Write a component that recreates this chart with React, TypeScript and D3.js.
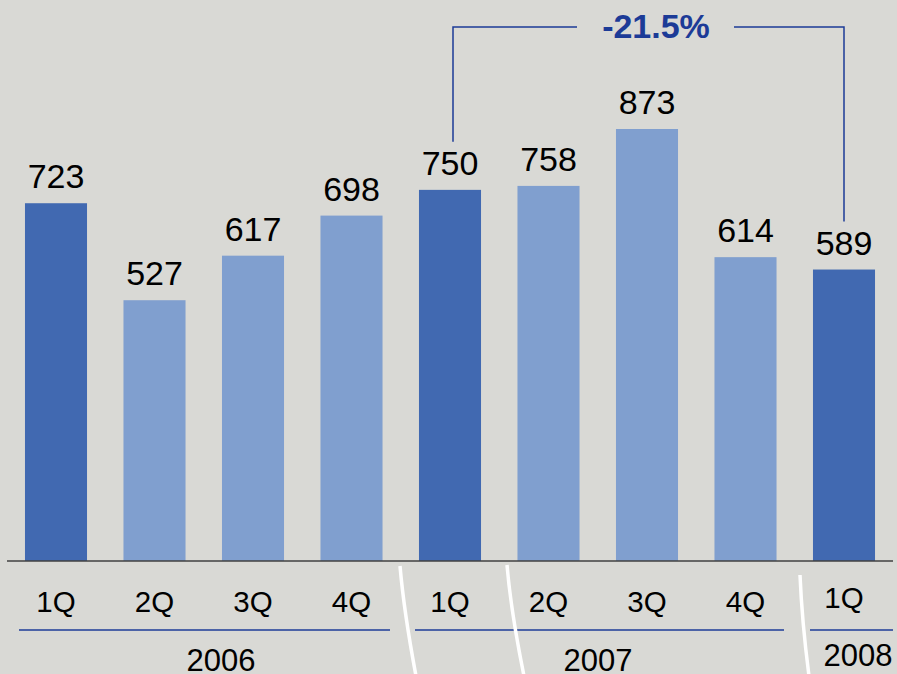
import React from "react";
import * as d3 from "d3";

const quarters = ["1Q", "2Q", "3Q", "4Q", "1Q", "2Q", "3Q", "4Q", "1Q"];
const values = [723, 527, 617, 698, 750, 758, 873, 614, 589];
const highlight = [true, false, false, false, true, false, false, false, true];
const years = ["2006", "2007", "2008"];
const changeLabel = "-21.5%";
const changeFrom = 4;
const changeTo = 8;

const W = 897;
const H = 674;
const BASE = 561;
const BG = "#d9d9d5";
const DARK = "#4169b1";
const LIGHT = "#809fcf";
const NAVY = "#1c3b97";
const FONT = "Liberation Sans, Arial, sans-serif";

export default function App() {
  const x = d3
    .scaleBand<number>()
    .domain(d3.range(values.length))
    .range([6.75, 893.25])
    .paddingInner(0.37)
    .paddingOuter(0.185);
  const y = d3.scaleLinear().domain([0, 873]).range([BASE, 129]);
  const cx = (i: number) => (x(i) as number) + x.bandwidth() / 2;

  const labelGap = 15;
  const capH = 25;
  const bx1 = cx(changeFrom) + 3;
  const bx2 = cx(changeTo);
  const by = 27;
  const y1End = y(values[changeFrom]) - labelGap - capH - 8;
  const y2End = y(values[changeTo]) - labelGap - capH - 8;

  const underlines = [
    [19, 390],
    [415, 784],
    [810, 893],
  ];
  const yearPos = [
    { x: 221, y: 671 },
    { x: 598, y: 671 },
    { x: 858, y: 666 },
  ];

  const curves = [
    "M400,566 Q404,612 416,676",
    "M507,565 Q511,612 524,676",
    "M800,575 Q802,622 809,676",
  ];

  return (
    <svg
      width={W}
      height={H}
      style={{ position: "absolute", left: 0, top: 0, background: BG }}
    >
      <rect x={0} y={0} width={W} height={H} fill={BG} />
      {values.map((v, i) => (
        <rect
          key={"b" + i}
          x={x(i)}
          y={y(v)}
          width={x.bandwidth()}
          height={BASE - y(v)}
          fill={highlight[i] ? DARK : LIGHT}
        />
      ))}
      {values.map((v, i) => (
        <text
          key={"v" + i}
          x={cx(i)}
          y={y(v) - labelGap}
          textAnchor="middle"
          fontFamily={FONT}
          fontSize={34}
          fill="#000"
        >
          {v}
        </text>
      ))}
      <line x1={7} x2={893} y1={BASE} y2={BASE} stroke="#404040" strokeWidth={1.5} />
      {quarters.map((q, i) => (
        <text
          key={"q" + i}
          x={cx(i)}
          y={i === 8 ? 608 : 612}
          textAnchor="middle"
          fontFamily={FONT}
          fontSize={29.5}
          fill="#000"
        >
          {q}
        </text>
      ))}
      {underlines.map((u, i) => (
        <line key={"u" + i} x1={u[0]} x2={u[1]} y1={630} y2={630} stroke={NAVY} strokeWidth={1.5} />
      ))}
      {years.map((yr, i) => (
        <text
          key={"y" + i}
          x={yearPos[i].x}
          y={yearPos[i].y}
          textAnchor="middle"
          fontFamily={FONT}
          fontSize={31}
          fill="#000"
        >
          {yr}
        </text>
      ))}
      {curves.map((d, i) => (
        <path key={"c" + i} d={d} fill="none" stroke="#fff" strokeWidth={3.5} />
      ))}
      <path
        d={`M${bx1},${y1End} V${by} H577 M734,${by} H${bx2} V${y2End}`}
        fill="none"
        stroke={NAVY}
        strokeWidth={1.5}
      />
      <text
        x={656}
        y={38}
        textAnchor="middle"
        fontFamily={FONT}
        fontSize={34}
        fontWeight="bold"
        fill={NAVY}
      >
        {changeLabel}
      </text>
    </svg>
  );
}
